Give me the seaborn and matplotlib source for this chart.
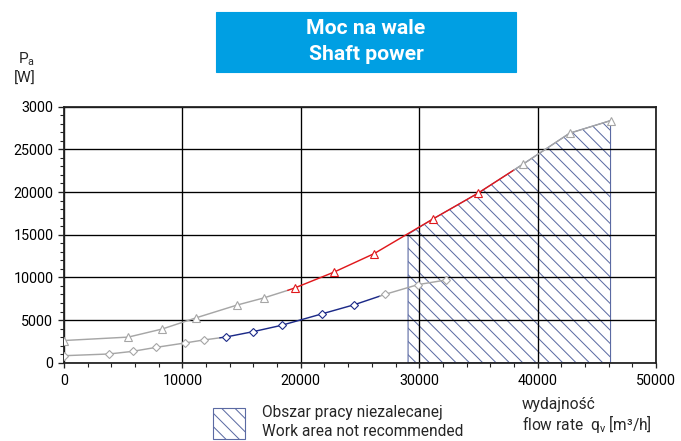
import matplotlib
matplotlib.use("Agg")
import matplotlib.pyplot as plt
from matplotlib.patches import Rectangle
from matplotlib.ticker import MultipleLocator
import seaborn as sns

# Krzywa gorna (trojkaty): odcinek szary, czerwony, szary
upper_a_x = [0, 5430, 8300, 11110, 14630, 16850, 18900]
upper_a_y = [2600, 3000, 3950, 5240, 6760, 7580, 8480]
upper_red_x = [18900, 19490, 22780, 26190, 31170, 34960, 38000]
upper_red_y = [8480, 8760, 10600, 12780, 16850, 19860, 22580]
upper_b_x = [38000, 38760, 42700, 46160]
upper_b_y = [22580, 23260, 26890, 28370]

# Krzywa dolna (romby): odcinek szary, niebieski, szary
lower_a_x = [0, 3800, 5800, 7790, 10210, 11790, 13160]
lower_a_y = [820, 1020, 1330, 1800, 2310, 2660, 2915]
lower_blue_x = [13160, 13670, 15980, 18370, 21830, 24530, 26670]
lower_blue_y = [2915, 3010, 3640, 4380, 5740, 6800, 7800]
lower_b_x = [26670, 27140, 29900, 32290]
lower_b_y = [7800, 8020, 9150, 9700]

# Obszar pracy niezalecanej (gorna granica)
hatch_x = [29060, 31170, 34960, 38000, 38760, 42700, 46160]
hatch_y = [15050, 16850, 19860, 22580, 23260, 26890, 28370]

x_ticks = [0, 10000, 20000, 30000, 40000, 50000]
y_ticks = [0, 5000, 10000, 15000, 20000, 25000, 30000]
y_tick_labels = ["0", "5000", "10000", "15000", "20000", "25000", "3000"]

GRAY = "#a6a6a6"
RED = "#e0181c"
BLUE = "#1c2a88"
HATCH = "#5b6aa3"
TITLE_BG = "#009fe3"

sns.set_theme(style="white")
plt.rcParams["font.family"] = ["Roboto", "DejaVu Sans"]
plt.rcParams["mathtext.fontset"] = "custom"
plt.rcParams["mathtext.rm"] = "Roboto"
plt.rcParams["mathtext.it"] = "Roboto"
plt.rcParams["hatch.linewidth"] = 0.9

W, H, DPI = 681, 441, 80
fig = plt.figure(figsize=(W / DPI, H / DPI), dpi=DPI)
ax = fig.add_axes([64 / W, 1 - 362.7 / H, 592 / W, 256 / H])

# obszar zakreskowany
ax.fill_between(hatch_x, 0, hatch_y, facecolor="none", edgecolor=HATCH,
                hatch="\\\\", linewidth=1.0, zorder=0.3)


def seg(x, y, color, marker, ms, marks):
    sns.lineplot(x=x, y=y, ax=ax, color=color, lw=1.3, marker=marker, ms=ms,
                 mfc="white", mec=color, mew=1.0, markevery=marks,
                 sort=False, estimator=None, legend=False, zorder=3)


seg(upper_a_x, upper_a_y, GRAY, "^", 7, list(range(0, len(upper_a_x) - 1)))
seg(upper_red_x, upper_red_y, RED, "^", 7, list(range(1, len(upper_red_x) - 1)))
seg(upper_b_x, upper_b_y, GRAY, "^", 7, list(range(1, len(upper_b_x))))
seg(lower_a_x, lower_a_y, GRAY, "D", 4.5, list(range(0, len(lower_a_x) - 1)))
seg(lower_blue_x, lower_blue_y, BLUE, "D", 4.5, list(range(1, len(lower_blue_x) - 1)))
seg(lower_b_x, lower_b_y, GRAY, "D", 4.5, list(range(1, len(lower_b_x))))

ax.set_xlim(0, 50000)
ax.set_ylim(0, 30000)
ax.set_xticks(x_ticks)
ax.set_xticklabels([str(v) for v in x_ticks])
ax.set_yticks(y_ticks)
ax.set_yticklabels(y_tick_labels)
ax.xaxis.set_minor_locator(MultipleLocator(2000))
ax.yaxis.set_minor_locator(MultipleLocator(1000))
ax.set_xlabel("")
ax.set_ylabel("")
ax.grid(True, which="major", color="black", lw=1.2)
ax.set_axisbelow(True)
ax.tick_params(axis="both", which="both", direction="out", color="#222222",
               left=True, bottom=True, labelsize=12.8, labelcolor="black")
ax.tick_params(axis="y", which="major", length=5.5, width=1.2, pad=4)
ax.tick_params(axis="y", which="minor", length=4, width=1.0)
ax.tick_params(axis="x", which="major", length=4.5, width=1.2, pad=6)
ax.tick_params(axis="x", which="minor", length=4, width=1.0)
for s in ax.spines.values():
    s.set_color("#222222")
    s.set_linewidth(1.6)

# tytul w niebieskiej ramce
fig.patches.append(Rectangle((216 / W, 1 - 72 / H), 300 / W, 60 / H,
                             transform=fig.transFigure, color=TITLE_BG, zorder=0))
fig.text(366 / W, 1 - 28 / H, "Moc na wale", color="white", fontsize=19,
         fontweight="bold", ha="center", va="center")
fig.text(366 / W, 1 - 55 / H, "Shaft power", color="white", fontsize=19,
         fontweight="bold", ha="center", va="center")

# opis osi Y
fig.text(18 / W, 1 - 59 / H, r"P$_\mathrm{a}$", fontsize=13.8, ha="left", va="center")
fig.text(25 / W, 1 - 79 / H, "[W]", fontsize=13.8, ha="center", va="center")

# legenda obszaru
fig.patches.append(Rectangle((213 / W, 1 - 439 / H), 32 / W, 31 / H,
                             transform=fig.transFigure, facecolor="none",
                             edgecolor=HATCH, hatch="\\\\", lw=1.0))
fig.text(262 / W, 1 - 413 / H, "Obszar pracy niezalecanej", fontsize=14,
         ha="left", va="center")
fig.text(262 / W, 1 - 432 / H, "Work area not recommended", fontsize=14,
         ha="left", va="center")

# opis osi X
fig.text(522 / W, 1 - 405 / H, "wydajność", fontsize=14, ha="left", va="center")
fig.text(522 / W, 1 - 424 / H, r"flow rate  q$_\mathrm{v}$ [m³/h]", fontsize=14,
         ha="left", va="center")

fig.savefig("out.png", dpi=DPI)
